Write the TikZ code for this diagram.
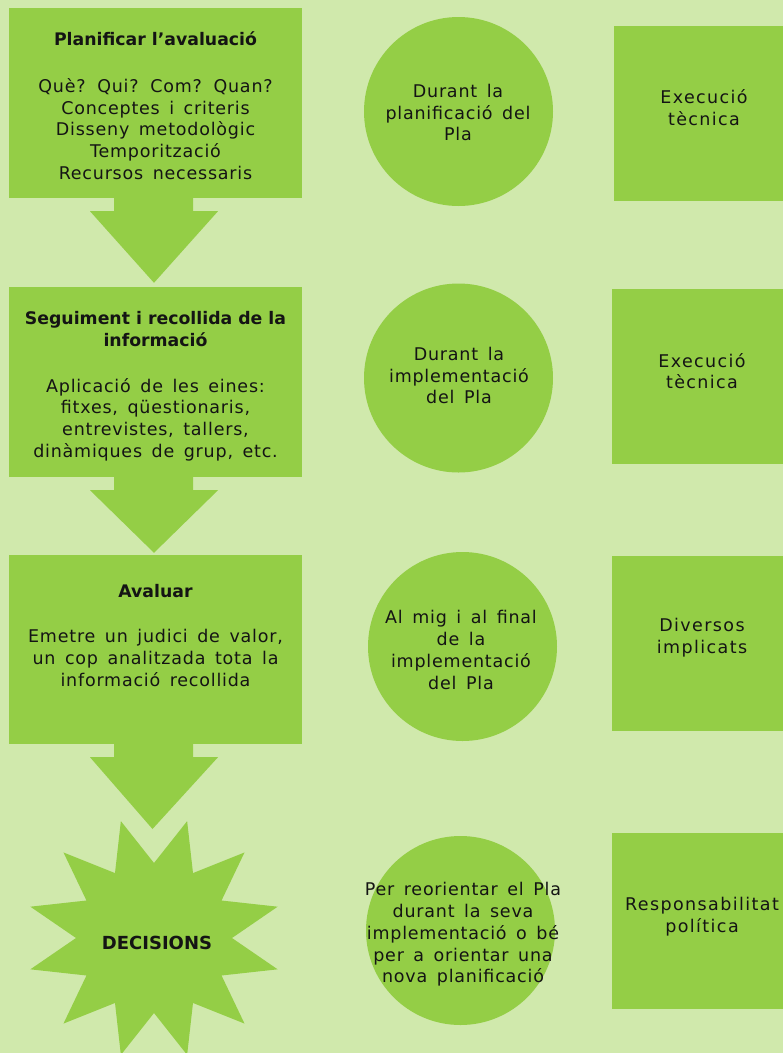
\documentclass[tikz,border=0pt]{standalone}
\usepackage{fontspec}
\usetikzlibrary{calc}
\newfontfamily\bodyf{DejaVu Sans}[LetterSpace=4.5,WordSpace=1.5]
\newfontfamily\sqf{DejaVu Sans}[LetterSpace=8,WordSpace=1.5]
\newfontfamily\headf{DejaVu Sans}
\definecolor{bgc}{HTML}{D0E9AC}
\definecolor{shp}{HTML}{94CE46}
\definecolor{txt}{HTML}{141414}
\newcommand\blockarrow[3]{%
  \fill[shapefill] ($(#1.south)+(-41.5,-1)$) -- ($(#1.south)+(37.5,-1)$)
    -- ($(#1.south)+(37.5,13)$) -- ($(#1.south)+(62.5,13)$)
    -- ($(#2)+(#3)$)
    -- ($(#1.south)+(-65.5,13)$) -- ($(#1.south)+(-41.5,13)$) -- cycle;}
\begin{document}
\begin{tikzpicture}[x=1pt,y=-1pt,
  shapefill/.style={fill=shp,draw=none},
  boxsh/.style={shapefill,rectangle,inner sep=0pt,minimum width=293pt,minimum height=190pt},
  sqsh/.style={shapefill,rectangle,inner sep=0pt,minimum width=180pt,minimum height=175pt},
  circsh/.style={shapefill,circle,inner sep=0pt,minimum size=189pt},
  bodytxt/.style={text=txt,align=center,inner sep=0pt,font=\bodyf\fontsize{17.5}{21.7}\selectfont},
  sqtxt/.style={text=txt,align=center,inner sep=0pt,font=\sqf\fontsize{17.5}{21.7}\selectfont},
  headtxt/.style={text=txt,align=center,inner sep=0pt,font=\headf\bfseries\fontsize{17.3}{22}\selectfont},
]
\useasboundingbox (0,0) rectangle (783,1053);
\fill[bgc] (0,0) rectangle (783,1053);
\clip (0,0) rectangle (783,1053);

% left column boxes
\node[boxsh] (box1) at (155.5,103) {};
\node[boxsh] (box2) at (155.5,382) {};
\node[boxsh,minimum height=189pt] (box3) at (155.5,649.5) {};
\coordinate (starc) at (154,938);
\fill[shapefill] plot[samples at={0,...,23}]
  ({154+(103+25*cos(180*\x))*cos(15+15*\x)},{938-(98+23*cos(180*\x))*sin(15+15*\x)}) -- cycle;

% block arrows
\blockarrow{box1}{box2.north}{-1.5,-4}
\blockarrow{box2}{box3.north}{-1.5,-2}
\blockarrow{box3}{starc}{-1.5,-109}

% texts left
\node[headtxt] (h1) at (155.5,39) {Planificar l’avaluació};
\node[bodytxt] (b1) at (155.5,129) {Què? Qui? Com? Quan?\\Conceptes i criteris\\Disseny metodològic\\Temporització\\Recursos necessaris};
\node[headtxt] (h2) at (155.5,329) {Seguiment i recollida de la\\informació};
\node[bodytxt] (b2) at (155.5,419.5) {Aplicació de les eines:\\fitxes, qüestionaris,\\entrevistes, tallers,\\dinàmiques de grup, etc.};
\node[headtxt] (h3) at (155.5,591) {Avaluar};
\node[bodytxt] (b3) at (155.5,658) {Emetre un judici de valor,\\un cop analitzada tota la\\informació recollida};
\node[headtxt,font=\headf\bfseries\fontsize{18}{20}\selectfont] (dec) at (157,943) {DECISIONS};

% circles
\node[circsh] (c1) at (458.5,111.5) {};
\node[circsh] (c2) at (458.5,378) {};
\node[circsh] (c3) at (462.5,646.5) {};
\node[circsh] (c4) at (460.5,930.5) {};
\node[bodytxt] (ct1) at (458,112.5) {Durant la\\planificació del\\Pla};
\node[bodytxt] (ct2) at (459,375.5) {Durant la\\implementació\\del Pla};
\node[bodytxt] (ct3) at (461,650) {Al mig i al final\\de la\\implementació\\del Pla};
\node[bodytxt] (ct4) at (463,934.5) {Per reorientar el Pla\\durant la seva\\implementació o bé\\per a orientar una\\nova planificació};

% squares
\node[sqsh] (s1) at (704,113.5) {};
\node[sqsh] (s2) at (702,376.5) {};
\node[sqsh] (s3) at (702,643.5) {};
\node[sqsh,minimum height=176pt] (s4) at (702,921) {};
\node[sqtxt] (st1) at (704,107.5) {Execució\\tècnica};
\node[sqtxt] (st2) at (702,371) {Execució\\tècnica};
\node[sqtxt] (st3) at (702,637.5) {Diversos\\implicats};
\node[sqtxt] (st4) at (702,916.5) {Responsabilitat\\política};
\end{tikzpicture}
\end{document}
